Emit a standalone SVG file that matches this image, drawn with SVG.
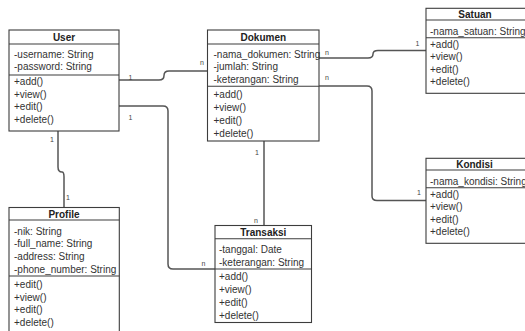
<svg xmlns="http://www.w3.org/2000/svg" width="525" height="331" viewBox="0 0 525 331">
  <style>
    .box { fill: #ffffff; stroke: #3d3d3d; stroke-width: 1.1; }
    .sep { stroke: #3d3d3d; stroke-width: 1.1; }
    .title { font-family: "Liberation Sans", Arial, sans-serif; font-size: 10px; font-weight: bold; fill: #222; text-anchor: middle; }
    .row { font-family: "Liberation Sans", Arial, sans-serif; font-size: 10px; fill: #333; }
    .wire { fill: none; stroke: #555; stroke-width: 1.5; }
    .mult { font-family: "Liberation Sans", Arial, sans-serif; font-size: 7px; fill: #444; text-anchor: middle; }
  </style>
  <rect width="525" height="331" fill="#ffffff"/>

  <!-- associations -->
  <g id="connectors">
    <path class="wire" d="M119,80 H159 Q164,80 164,75.5 Q164,71 169,71 H207.5"/>
    <path class="wire" d="M119,106 H163 Q168,106 168,111 V264 Q168,269 173,269 H215"/>
    <path class="wire" d="M58,131 V167 Q58,172 62,172 Q64,172 64,177 V207.5"/>
    <path class="wire" d="M319,58 H368 Q373,58 373,54 Q373,50.5 378,50.5 H426"/>
    <path class="wire" d="M319,86 H367 Q372,86 372,91 V196 Q372,200.5 377,200.5 H426"/>
    <path class="wire" d="M264,141 V225.5"/>
    <text class="mult" x="130.5" y="79.5">1</text>
    <text class="mult" x="202" y="65">n</text>
    <text class="mult" x="130.5" y="119.5">1</text>
    <text class="mult" x="203.5" y="266">n</text>
    <text class="mult" x="52" y="142">1</text>
    <text class="mult" x="68" y="200">1</text>
    <text class="mult" x="327" y="55">n</text>
    <text class="mult" x="417.5" y="46">1</text>
    <text class="mult" x="327" y="80">n</text>
    <text class="mult" x="419" y="195">1</text>
    <text class="mult" x="257" y="155">1</text>
    <text class="mult" x="256" y="222.5">n</text>
  </g>

  <g id="user">
    <rect class="box" x="9" y="30" width="110" height="101"/>
    <line class="sep" x1="9" y1="44" x2="119" y2="44"/>
    <line class="sep" x1="9" y1="75" x2="119" y2="75"/>
    <text class="title" x="64" y="41">User</text>
    <text class="row" x="14" y="57.5">-username: String</text>
    <text class="row" x="14" y="70">-password: String</text>
    <text class="row" x="14" y="85.3">+add()</text>
    <text class="row" x="14" y="97.8">+view()</text>
    <text class="row" x="14" y="110.3">+edit()</text>
    <text class="row" x="14" y="122.8">+delete()</text>
  </g>

  <g id="dokumen">
    <rect class="box" x="207.5" y="30" width="111.5" height="111"/>
    <line class="sep" x1="207.5" y1="44" x2="319" y2="44"/>
    <line class="sep" x1="207.5" y1="86.3" x2="319" y2="86.3"/>
    <text class="title" x="263.3" y="41">Dokumen</text>
    <text class="row" x="213.5" y="57.6">-nama_dokumen: String</text>
    <text class="row" x="213.5" y="70.3">-jumlah: String</text>
    <text class="row" x="213.5" y="82.9">-keterangan: String</text>
    <text class="row" x="213.5" y="98.1">+add()</text>
    <text class="row" x="213.5" y="110.9">+view()</text>
    <text class="row" x="213.5" y="123.6">+edit()</text>
    <text class="row" x="213.5" y="136.6">+delete()</text>
  </g>

  <g id="satuan">
    <rect class="box" x="426" y="8.3" width="100" height="85"/>
    <line class="sep" x1="426" y1="20" x2="526" y2="20"/>
    <line class="sep" x1="426" y1="37.7" x2="526" y2="37.7"/>
    <text class="title" x="475" y="18">Satuan</text>
    <text class="row" x="430" y="35.3">-nama_satuan: String</text>
    <text class="row" x="430" y="47.9">+add()</text>
    <text class="row" x="430" y="60.3">+view()</text>
    <text class="row" x="430" y="72.9">+edit()</text>
    <text class="row" x="430" y="85.3">+delete()</text>
  </g>

  <g id="kondisi">
    <rect class="box" x="426" y="158.3" width="100" height="85"/>
    <line class="sep" x1="426" y1="170" x2="526" y2="170"/>
    <line class="sep" x1="426" y1="187.7" x2="526" y2="187.7"/>
    <text class="title" x="474.5" y="168">Kondisi</text>
    <text class="row" x="430" y="185.3">-nama_kondisi: String</text>
    <text class="row" x="430" y="197.9">+add()</text>
    <text class="row" x="430" y="210.3">+view()</text>
    <text class="row" x="430" y="222.9">+edit()</text>
    <text class="row" x="430" y="235.3">+delete()</text>
  </g>

  <g id="profile">
    <rect class="box" x="9" y="207.5" width="110.3" height="130"/>
    <line class="sep" x1="9" y1="220" x2="119.3" y2="220"/>
    <line class="sep" x1="9" y1="276" x2="119.3" y2="276"/>
    <text class="title" x="64" y="217.6">Profile</text>
    <text class="row" x="14" y="234.6">-nik: String</text>
    <text class="row" x="14" y="246.9">-full_name: String</text>
    <text class="row" x="14" y="259.6">-address: String</text>
    <text class="row" x="14" y="272.6">-phone_number: String</text>
    <text class="row" x="14" y="287.9">+edit()</text>
    <text class="row" x="14" y="300.9">+view()</text>
    <text class="row" x="14" y="312.9">+edit()</text>
    <text class="row" x="14" y="325.9">+delete()</text>
  </g>

  <g id="transaksi">
    <rect class="box" x="215" y="225.5" width="96.5" height="97"/>
    <line class="sep" x1="215" y1="238.8" x2="311.5" y2="238.8"/>
    <line class="sep" x1="215" y1="269" x2="311.5" y2="269"/>
    <text class="title" x="263.3" y="235.7">Transaksi</text>
    <text class="row" x="219" y="253.3">-tanggal: Date</text>
    <text class="row" x="219" y="265.6">-keterangan: String</text>
    <text class="row" x="219" y="279.6">+add()</text>
    <text class="row" x="219" y="292.6">+view()</text>
    <text class="row" x="219" y="305.6">+edit()</text>
    <text class="row" x="219" y="318.6">+delete()</text>
  </g>
</svg>
